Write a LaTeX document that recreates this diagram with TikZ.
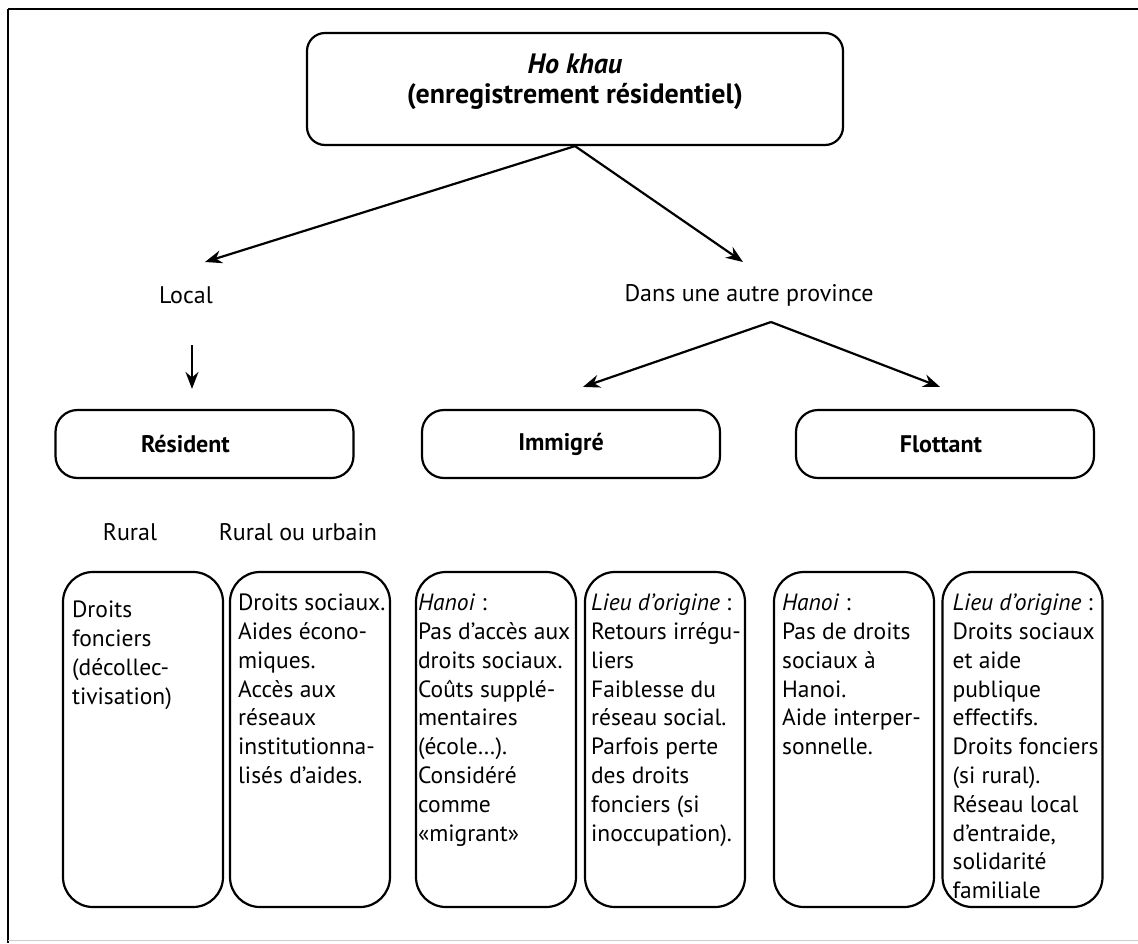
\documentclass[tikz,border=0pt]{standalone}
\usepackage{fontspec}
\setmainfont{PT Sans}
\usetikzlibrary{arrows.meta}
\begin{document}
\begin{tikzpicture}[x=1pt,y=-1pt,
  headbox/.style={draw, line width=2.2pt, rounded corners=18pt,
    minimum width=536pt, minimum height=112pt},
  headtext/.style={align=center, inner sep=0pt,
    font=\fontsize{28}{30}\selectfont\bfseries},
  catbox/.style={draw, line width=2.2pt, rounded corners=22pt,
    minimum width=298pt, minimum height=68pt},
  catlabel/.style={inner sep=0pt, font=\fontsize{24}{26}\selectfont\bfseries},
  detailbox/.style={draw, line width=2.2pt, rounded corners=30pt,
    minimum width=160pt, minimum height=335pt},
  detailtext/.style={anchor=north west, align=left, inner sep=0pt,
    font=\fontsize{23.5}{28.8}\selectfont},
  plain/.style={font=\fontsize{24}{26}\selectfont},
  link/.style={line width=2.2pt, -{Stealth[length=17pt,width=13pt]}}
]
\useasboundingbox (0,0) rectangle (1138,943);

% page frame
\draw[line width=2.5pt] (8,9) -- (1138,9);
\draw[line width=2pt] (8,9) -- (8,943);
\draw[black!20, line width=1pt] (8,940) -- (1138,940);

% head
\node[headbox] (hokhau) at (575,89) {};
\node[headtext] (hokhau-text) at (575,82) {\textit{Ho khau}\\(enregistrement résidentiel)};

% first split
\node[plain] (local) at (186,295) {Local};
\node[plain] (autre) at (749,295) {Dans une autre province};
\draw[link] (hokhau.south) -- ([shift={(19,-33)}]local.center);
\draw[link] (hokhau.south) -- ([shift={(-6,-33)}]autre.center);

% categories
\node[catbox] (resident) at (204.5,444) {};
\node[catbox] (immigre) at (571,444) {};
\node[catbox] (flottant) at (945,444) {};
\node[catlabel] (resident-text) at ([xshift=-19pt]resident.center) {Résident};
\node[catlabel] (immigre-text) at ([xshift=-10pt]immigre.center) {Immigré};
\node[catlabel] (flottant-text) at ([xshift=-4pt]flottant.center) {Flottant};

\draw[link] ([shift={(6,50)}]local.center) -- ([shift={(-12.5,-20)}]resident.north);
\draw[link] ([shift={(22,27)}]autre.center) -- ([shift={(12,-22)}]immigre.north);
\draw[link] ([shift={(22,27)}]autre.center) -- ([shift={(-5,-22)}]flottant.north);

% sub-labels of the resident column
\node[plain] (rural) at (130,532) {Rural};
\node[plain] (ruralurb) at (298,532) {Rural ou urbain};

% detail boxes
\node[detailbox] (d1) at (143,739.5) {};
\node[detailbox] (d2) at (310,739.5) {};
\node[detailbox] (d3) at (496,739.5) {};
\node[detailbox] (d4) at (665,739.5) {};
\node[detailbox] (d5) at (854,739.5) {};
\node[detailbox] (d6) at (1022.5,739.5) {};

\node[detailtext] (t1) at ([shift={(10,30)}]d1.north west)
  {Droits\\fonciers\\(décollec-\\tivisation)};
\node[detailtext] (t2) at ([shift={(9,23)}]d2.north west)
  {Droits sociaux.\\Aides écono-\\miques.\\Accès aux\\réseaux\\institutionna-\\lisés d’aides.};
\node[detailtext] (t3) at ([shift={(3,23)}]d3.north west)
  {\textit{Hanoi} :\\Pas d’accès aux\\droits sociaux.\\Coûts supplé-\\mentaires\\(école…).\\Considéré\\comme\\«migrant»};
\node[detailtext] (t4) at ([shift={(7,23)}]d4.north west)
  {\textit{Lieu d’origine} :\\Retours irrégu-\\liers\\Faiblesse du\\réseau social.\\Parfois perte\\des droits\\fonciers (si\\inoccupation).};
\node[detailtext] (t5) at ([shift={(9,23)}]d5.north west)
  {\textit{Hanoi} :\\Pas de droits\\sociaux à\\Hanoi.\\Aide interper-\\sonnelle.};
\node[detailtext] (t6) at ([shift={(11,23)}]d6.north west)
  {\textit{Lieu d’origine} :\\Droits sociaux\\et aide\\publique\\effectifs.\\Droits fonciers\\(si rural).\\Réseau local\\d’entraide,\\solidarité\\familiale};
\end{tikzpicture}
\end{document}
